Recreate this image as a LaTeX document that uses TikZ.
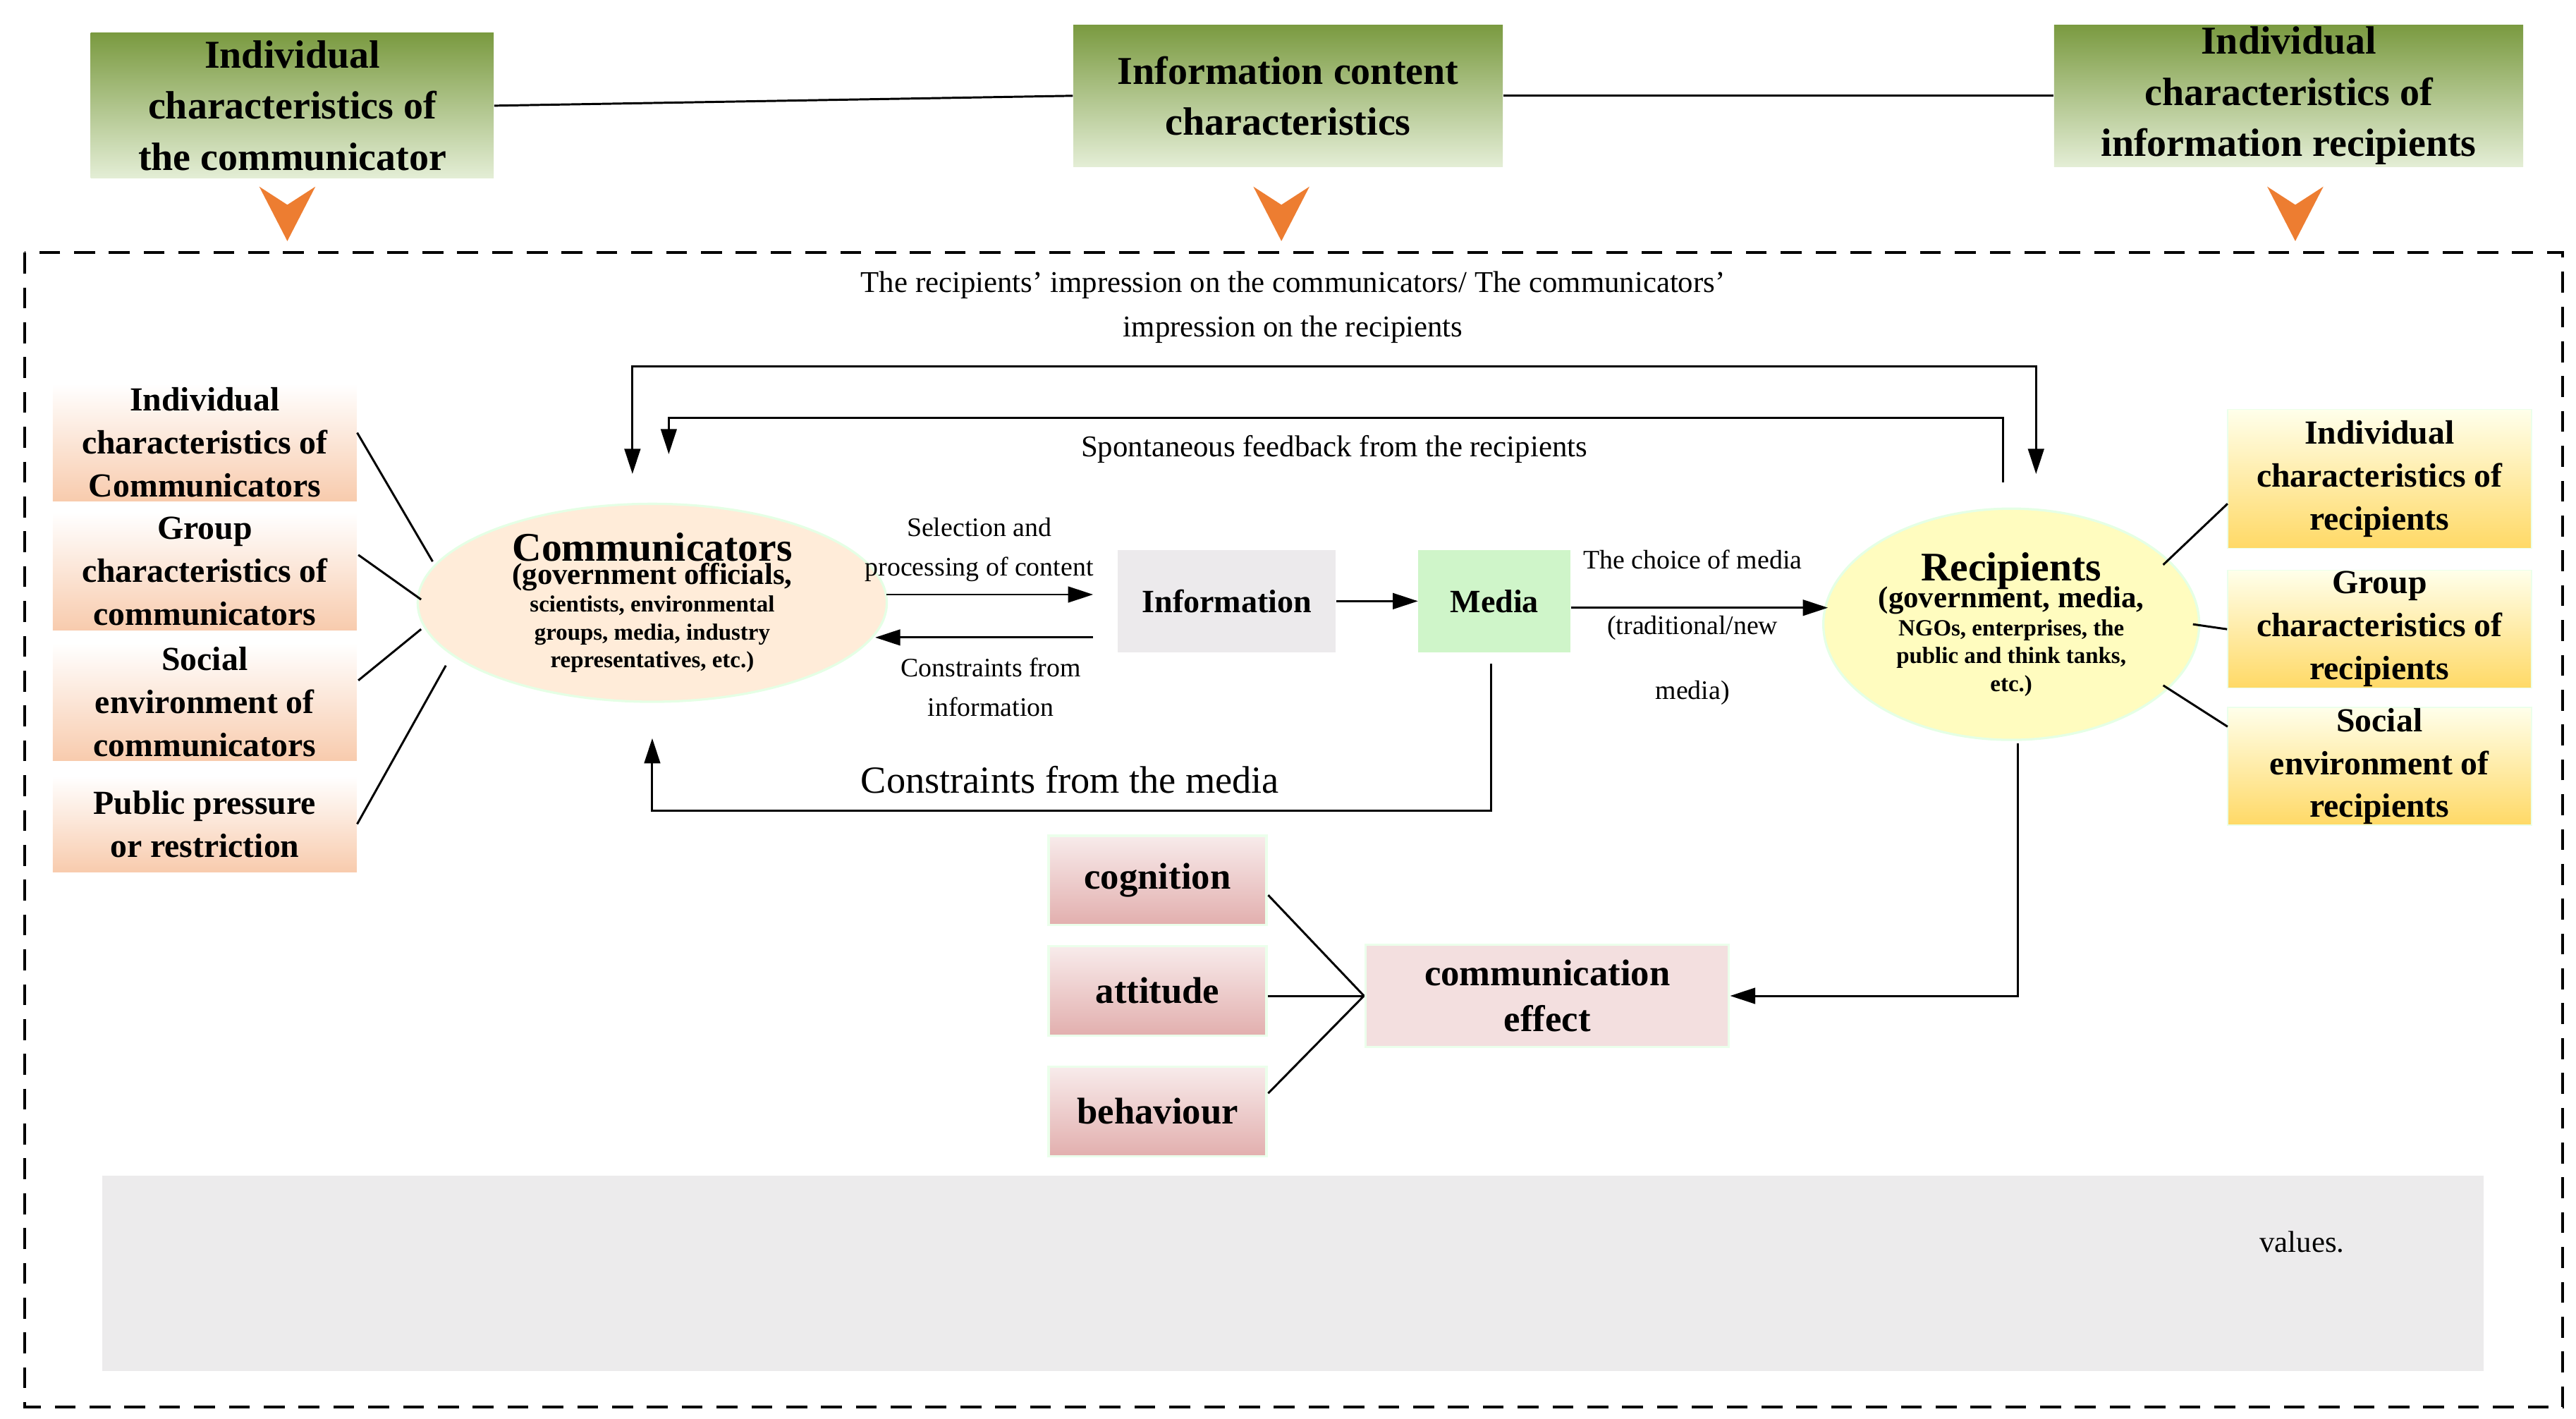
\documentclass[tikz,border=0pt]{standalone}
\usepackage{fontspec}
\setmainfont{Liberation Serif}
\usetikzlibrary{arrows.meta,shapes.geometric}
\definecolor{olive}{HTML}{7A9A40}
\definecolor{olivelt}{HTML}{E4EED6}
\definecolor{peach}{HTML}{F8CBAD}
\definecolor{gold}{HTML}{FFD966}
\definecolor{rosy}{HTML}{E2AFAE}
\definecolor{chev}{HTML}{ED7D31}
\tikzset{
  topbox/.style={top color=olive,bottom color=olivelt,align=center,font=\fontsize{17}{22}\selectfont\bfseries,inner sep=0pt},
  lbox/.style={top color=white,bottom color=peach,align=center,font=\fontsize{14.5}{18.5}\selectfont\bfseries,inner sep=0pt,minimum width=4.6cm},
  rbox/.style={top color=yellow!8,bottom color=gold,draw=green!8,align=center,font=\fontsize{14.5}{18.5}\selectfont\bfseries,inner sep=0pt,minimum width=4.6cm},
  ebox/.style={top color=rosy!25,bottom color=rosy,draw=green!8,line width=1pt,align=center,font=\fontsize{16}{20}\selectfont\bfseries,inner sep=0pt,minimum width=3.3cm,minimum height=1.35cm},
  oval/.style={ellipse,draw=green!10,line width=1pt,inner sep=0pt,align=center,font=\bfseries},
  small/.style={font=\fontsize{11.5}{17}\selectfont,align=center},
  arr/.style={-{Triangle[length=0.38cm,width=0.24cm]},line width=0.9pt},
  ln/.style={line width=0.9pt}
}
\newcommand{\bigline}{\fontsize{17.5}{22}\selectfont}
\newcommand{\subline}{\fontsize{13}{17}\selectfont}
\begin{document}
\begin{tikzpicture}[x=0.025cm,y=-0.025cm]
\useasboundingbox (0,0) rectangle (1560,859);
%top row
\node (tc) at (177,64) [topbox,minimum width=6.1cm,minimum height=2.2cm] {Individual\\characteristics of\\the communicator};
\node (ti) at (780,58) [topbox,minimum width=6.5cm,minimum height=2.15cm] {Information content\\characteristics};
\node (tr) at (1386,58) [topbox,minimum width=7.1cm,minimum height=2.15cm] {Individual\\characteristics of\\information recipients};
\draw[ln] (tc.east) -- (ti.west);
\draw[ln] (ti.east) -- (tr.west);
\foreach \x in {174,776,1390}
  \fill[chev] (\x-17,113) -- (\x,124) -- (\x+17,113) -- (\x,146) -- cycle;
\draw[line width=1.2pt,dash pattern=on 9pt off 6pt] (15,153) rectangle (1552,852);

%left factors
\node (l1) at (124,268) [lbox,minimum height=1.78cm] {Individual\\characteristics of\\Communicators};
\node (l2) at (124,346) [lbox,minimum height=1.78cm] {Group\\characteristics of\\communicators};
\node (l3) at (124,425) [lbox,minimum height=1.78cm] {Social\\environment of\\communicators};
\node (l4) at (124,499) [lbox,minimum height=1.45cm] {Public pressure\\or restriction};

%main chain
\node (com) at (395,365) [oval,fill=orange!15,minimum width=7.1cm,minimum height=2.95cm] {\bigline Communicators\\[-2pt]\subline (government officials,\\scientists, environmental\\groups, media, industry\\representatives, etc.)};
\node (info) at (743,364) [fill=violet!10!gray!15,minimum width=3.3cm,minimum height=1.55cm,font=\fontsize{14}{17}\selectfont\bfseries] {Information};
\node (med) at (905,364) [fill=green!15!white!90!olive,minimum width=2.3cm,minimum height=1.55cm,font=\fontsize{14}{17}\selectfont\bfseries] {Media};
\node (rec) at (1218,378) [oval,fill=yellow!25,minimum width=5.55cm,minimum height=3.5cm] {\bigline Recipients\\[-2pt]\subline (government, media,\\NGOs, enterprises, the\\public and think tanks,\\etc.)};

\draw[ln] (l1.east) ++(0,-6) -- (262,340);
\draw[ln] (217,336) -- (255,363);
\draw[ln] (217,412) -- (255,381);
\draw[ln] (l4.east) -- (270,403);

\draw[arr] (537,360) -- (662,360) coordinate (selE);
\node (sel) at (593,333) [small] {Selection and\\processing of content};
\draw[arr] (662,386) -- (530,386);
\node (cin) at (600,416) [small] {Constraints from\\information};
\draw[arr] (info) -- (med);
\draw[arr] (med.east) ++(0,4) -- (1107,368);
\node (choice) at (1025,380) [small,font=\fontsize{11.5}{28}\selectfont] {The choice of media\\(traditional/new\\media)};

%right factors
\node (r1) at (1441,290) [rbox,minimum height=2.1cm] {Individual\\characteristics of\\recipients};
\node (r2) at (1441,381) [rbox,minimum height=1.78cm] {Group\\characteristics of\\recipients};
\node (r3) at (1441,464) [rbox,minimum height=1.78cm] {Social\\environment of\\recipients};
\draw[ln] (1310,342) -- (1349,305);
\draw[ln] (1328,378) -- (r2.west);
\draw[ln] (1310,415) -- (1349,440);

%feedback loops
\draw[arr,{Triangle[length=0.38cm,width=0.24cm]}-{Triangle[length=0.38cm,width=0.24cm]}] (383,287) -- (383,222) -- (1233,222) -- (1233,287);
\node (imp) at (783,186) [small,font=\fontsize{13}{19}\selectfont] {The recipients' impression on the communicators/ The communicators'\\impression on the recipients};
\draw[arr] (1213,292) -- (1213,253) -- (405,253) -- (405,275);
\node (spon) at (808,272) [font=\fontsize{13}{16}\selectfont] {Spontaneous feedback from the recipients};
\draw[arr] (903,402) -- (903,491) -- (395,491) -- (395,447);
\node (cmed) at (648,472) [font=\fontsize{16.5}{20}\selectfont] {Constraints from the media};

%effect
\node (eff) at (937,603) [fill=rosy!40,draw=green!8,line width=1pt,minimum width=5.5cm,minimum height=1.55cm,align=center,font=\fontsize{16}{20}\selectfont\bfseries] {communication\\effect};
\draw[arr] (1222,450) -- (1222,603) -- (eff.east);
\node (cog) at (701,533) [ebox] {cognition};
\node (att) at (701,600) [ebox] {attitude};
\node (beh) at (701,673) [ebox] {behaviour};
\coordinate (hub) at (826,603);
\draw[ln] (768,542) -- (hub);
\draw[ln] (att.east) ++(0,3) -- (hub);
\draw[ln] (768,662) -- (hub);

%bottom panel
\node (panel) at (783,771) [fill=violet!6!gray!15,minimum width=36.05cm,minimum height=2.95cm] {};
\node (val) at (1394,752) [font=\fontsize{13}{16}\selectfont] {values.};
\end{tikzpicture}
\end{document}
